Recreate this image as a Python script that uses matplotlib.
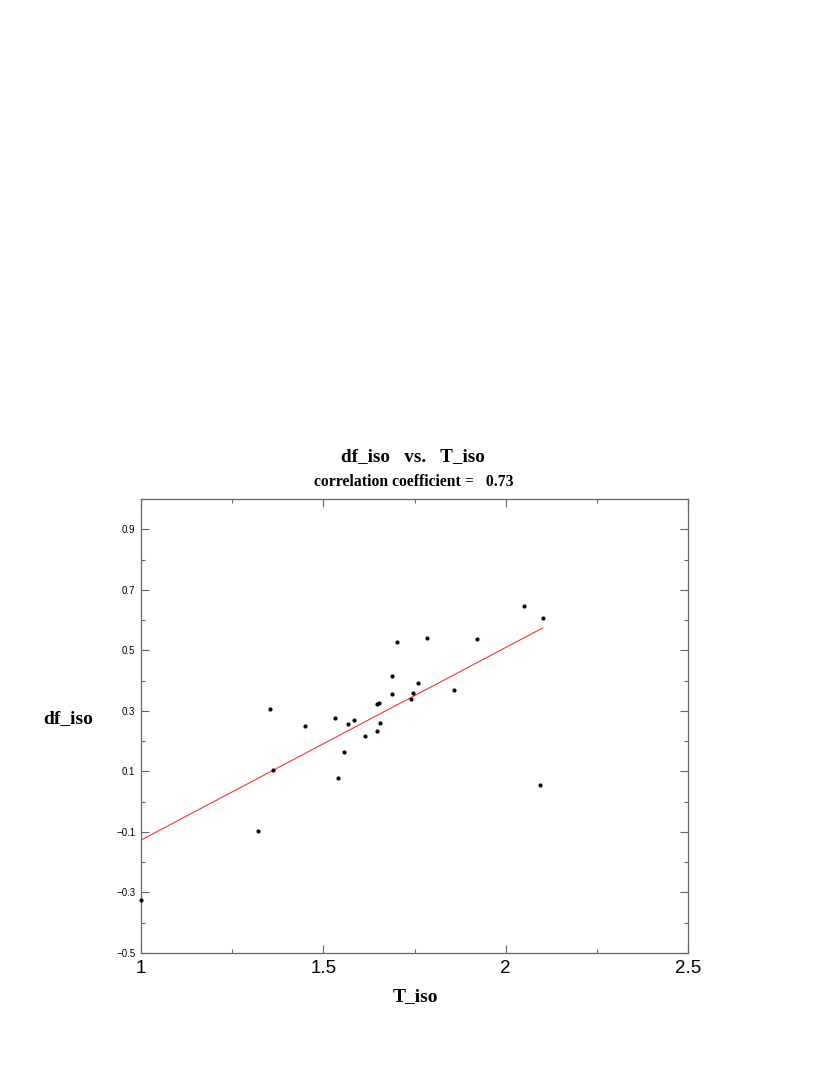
import numpy as np
import matplotlib.pyplot as plt
from matplotlib.ticker import MultipleLocator

# values
T_iso = [1.000, 1.322, 1.355, 1.362, 1.449, 1.532, 1.541, 1.557, 1.567, 1.585,
         1.614, 1.646, 1.647, 1.653, 1.656, 1.688, 1.688, 1.703, 1.741, 1.746,
         1.760, 1.784, 1.858, 1.922, 2.049, 2.102, 2.094]
df_iso = [-0.325, -0.096, 0.307, 0.104, 0.251, 0.277, 0.077, 0.165, 0.256, 0.270,
          0.217, 0.233, 0.322, 0.325, 0.260, 0.416, 0.356, 0.526, 0.338, 0.359,
          0.392, 0.542, 0.370, 0.536, 0.645, 0.607, 0.055]
x_ticks = [1, 1.5, 2, 2.5]
x_labels = ['1', '1.5', '2', '2.5']
y_ticks = [-0.5, -0.3, -0.1, 0.1, 0.3, 0.5, 0.7, 0.9]
y_labels = ['\u22120.5', '\u22120.3', '\u22120.1', '0.1', '0.3', '0.5', '0.7', '0.9']
corr_text = '0.73'

x = np.array(T_iso)
y = np.array(df_iso)
slope, icpt = np.polyfit(x, y, 1)
xfit = np.array([x.min(), x.max()])

fig = plt.figure(figsize=(8.3, 10.75), dpi=100)
ax = fig.add_axes([0.1699, 0.1135, 0.6590, 0.4223])

ax.plot(xfit, icpt + slope * xfit, color='#ff3030', linewidth=0.8, zorder=2)
ax.scatter(x, y, s=4, color='black', zorder=3, clip_on=False)

ax.set_xlim(1, 2.5)
ax.set_ylim(-0.5, 1.0)
ax.set_xticks(x_ticks)
ax.set_xticklabels(x_labels, fontsize=13.5, family='Liberation Sans')
ax.xaxis.set_minor_locator(MultipleLocator(0.25))
ax.set_yticks(y_ticks)
ax.set_yticklabels(y_labels, fontsize=7, family='Liberation Sans')
ax.yaxis.set_minor_locator(MultipleLocator(0.1))

ax.tick_params(which='both', direction='in', top=True, right=True, color='#666666')
ax.tick_params(which='major', length=6, width=0.8)
ax.tick_params(which='minor', length=3, width=0.8)
ax.tick_params(axis='x', pad=5)
ax.tick_params(axis='y', pad=4)
for s in ['top', 'bottom', 'left', 'right']:
    ax.spines[s].set_color('#666666')
    ax.spines[s].set_linewidth(0.9)

fig.text(0.498, 0.575, 'df_iso   vs.   T_iso', ha='center', va='center',
         fontsize=13.8, fontweight='bold', family='Liberation Serif')
fig.text(0.498, 0.552, 'correlation coefficient =   ' + corr_text, ha='center', va='center',
         fontsize=11.3, fontweight='bold', family='Liberation Serif')
fig.text(0.0825, 0.332, 'df_iso', ha='center', va='center',
         fontsize=14, fontweight='bold', family='Liberation Serif')
fig.text(0.501, 0.073, 'T_iso', ha='center', va='center',
         fontsize=14, fontweight='bold', family='Liberation Serif')

fig.savefig('out.png', dpi=100)
